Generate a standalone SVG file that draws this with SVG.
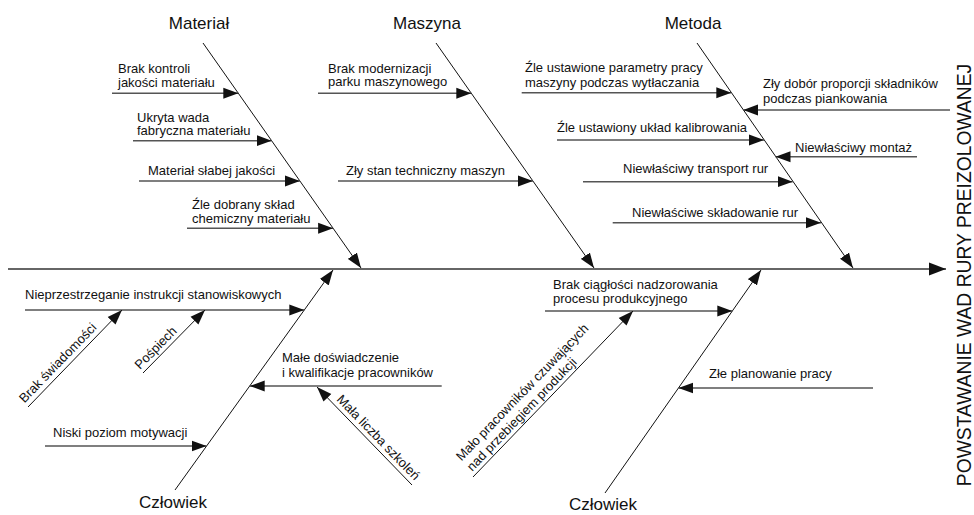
<svg xmlns="http://www.w3.org/2000/svg" width="974" height="515" viewBox="0 0 974 515">
<style>
text{font-family:"Liberation Sans",Arial,sans-serif;fill:#111}
.lbl{font-size:13px}
.head{font-size:17px;text-anchor:middle}
.title{font-size:19.3px;text-anchor:middle}
.h{stroke:#555;stroke-width:1.6;fill:none;marker-end:url(#ah)}
.d{stroke:#111;stroke-width:1;fill:none;marker-end:url(#ah)}
.spine{stroke:#666;stroke-width:2;fill:none;marker-end:url(#ahBig)}
</style>
<defs>
<marker id="ah" markerUnits="userSpaceOnUse" markerWidth="16" markerHeight="12" refX="15" refY="6" orient="auto"><path d="M0,0.5 L15,6 L0,11.5 z" fill="#111"/></marker>
<marker id="ahBig" markerUnits="userSpaceOnUse" markerWidth="18" markerHeight="14" refX="17" refY="7" orient="auto"><path d="M0,0.5 L17,7 L0,13.5 z" fill="#111"/></marker>
</defs>
<rect width="974" height="515" fill="#fff"/>

<g id="connectors">
<path class="spine" d="M8,269 L946,269"/>
<path class="d" d="M203,43 L361,268"/>
<path class="d" d="M436,43 L594,268"/>
<path class="d" d="M697,43 L853,268"/>
<path class="d" d="M175,490 L333,270"/>
<path class="d" d="M605,493 L761,270"/>
<path class="h" d="M112,93.3 L238.3,93.3"/>
<path class="h" d="M133,140.7 L271.6,140.7"/>
<path class="h" d="M139,181 L299.9,181"/>
<path class="h" d="M187,228.3 L333.1,228.3"/>
<path class="h" d="M318,93.3 L471.3,93.3"/>
<path class="h" d="M338,181 L532.9,181"/>
<path class="h" d="M521.7,92.7 L731.3,92.7"/>
<path class="h" d="M950,110 L743.2,110"/>
<path class="h" d="M557,140 L764,140"/>
<path class="h" d="M917,156.7 L775.5,156.7"/>
<path class="h" d="M583,181.7 L792.7,181.7"/>
<path class="h" d="M612.7,222.7 L821,222.7"/>
<path class="h" d="M25,310 L304.3,310"/>
<path class="h" d="M441.7,386 L249.7,386"/>
<path class="h" d="M45,446 L206.6,446"/>
<path class="h" d="M545,311 L732.3,311"/>
<path class="h" d="M873,388 L678.4,388"/>
<path class="d" d="M28,407 L122,310"/>
<path class="d" d="M143,373 L205,310"/>
<path class="d" d="M412,485 L317,387"/>
<path class="d" d="M473,477 L633,311"/>
</g>

<g id="head-material"><text class="head" x="199" y="29">Materiał</text></g>
<g id="head-maszyna"><text class="head" x="427" y="29">Maszyna</text></g>
<g id="head-metoda"><text class="head" x="693" y="29">Metoda</text></g>
<g id="head-czlowiek-1"><text class="head" x="173" y="508">Człowiek</text></g>
<g id="head-czlowiek-2"><text class="head" x="603" y="510">Człowiek</text></g>
<g id="effect"><text class="title" transform="translate(971,275) rotate(-90)">POWSTAWANIE WAD RURY PREIZOLOWANEJ</text></g>

<g id="c-brak-kontroli"><text class="lbl" x="118" y="73"><tspan x="118">Brak kontroli</tspan><tspan x="118" dy="13.5">jakości materiału</tspan></text></g>
<g id="c-ukryta-wada"><text class="lbl" x="137" y="121.5"><tspan x="137">Ukryta wada</tspan><tspan x="137" dy="13.5">fabryczna materiału</tspan></text></g>
<g id="c-material-slabej"><text class="lbl" x="148" y="175">Materiał słabej jakości</text></g>
<g id="c-zle-dobrany"><text class="lbl" x="192" y="209"><tspan x="192">Źle dobrany skład</tspan><tspan x="192" dy="13.5">chemiczny materiału</tspan></text></g>

<g id="c-brak-modernizacji"><text class="lbl" x="328" y="72.5"><tspan x="328">Brak modernizacji</tspan><tspan x="328" dy="13.5">parku maszynowego</tspan></text></g>
<g id="c-zly-stan"><text class="lbl" x="346" y="175">Zły stan techniczny maszyn</text></g>

<g id="c-parametry"><text class="lbl" x="525" y="72"><tspan x="525">Źle ustawione parametry pracy</tspan><tspan x="525" dy="14.5">maszyny podczas wytłaczania</tspan></text></g>
<g id="c-proporcje"><text class="lbl" x="763" y="88.3"><tspan x="763">Zły dobór proporcji składników</tspan><tspan x="763" dy="14.5">podczas piankowania</tspan></text></g>
<g id="c-kalibrowanie"><text class="lbl" x="557" y="132">Źle ustawiony układ kalibrowania</text></g>
<g id="c-montaz"><text class="lbl" x="795" y="151.5">Niewłaściwy montaż</text></g>
<g id="c-transport"><text class="lbl" x="623" y="173">Niewłaściwy transport rur</text></g>
<g id="c-skladowanie"><text class="lbl" x="632" y="216.5">Niewłaściwe składowanie rur</text></g>

<g id="c-instrukcje"><text class="lbl" x="25" y="299">Nieprzestrzeganie instrukcji stanowiskowych</text></g>
<g id="c-swiadomosc"><text class="lbl" transform="translate(24.4,403.5) rotate(-45.9)">Brak świadomości</text></g>
<g id="c-pospiech"><text class="lbl" transform="translate(140,370) rotate(-45.5)">Pośpiech</text></g>
<g id="c-doswiadczenie"><text class="lbl" x="282" y="362"><tspan x="282">Małe doświadczenie</tspan><tspan x="282" dy="14.5">i kwalifikacje pracowników</tspan></text></g>
<g id="c-szkolenia"><text class="lbl" transform="translate(336,400) rotate(45.9)">Mała liczba szkoleń</text></g>
<g id="c-motywacja"><text class="lbl" x="53" y="436.5">Niski poziom motywacji</text></g>

<g id="c-nadzorowanie"><text class="lbl" x="553" y="289"><tspan x="553">Brak ciągłości nadzorowania</tspan><tspan x="553" dy="13.5">procesu produkcyjnego</tspan></text></g>
<g id="c-malo-pracownikow"><text class="lbl" transform="translate(461.4,461.6) rotate(-46)"><tspan x="0" y="0">Mało pracowników czuwających</tspan><tspan x="0" y="15">nad przebiegiem produkcji</tspan></text></g>
<g id="c-planowanie"><text class="lbl" x="709" y="378">Złe planowanie pracy</text></g>
</svg>
